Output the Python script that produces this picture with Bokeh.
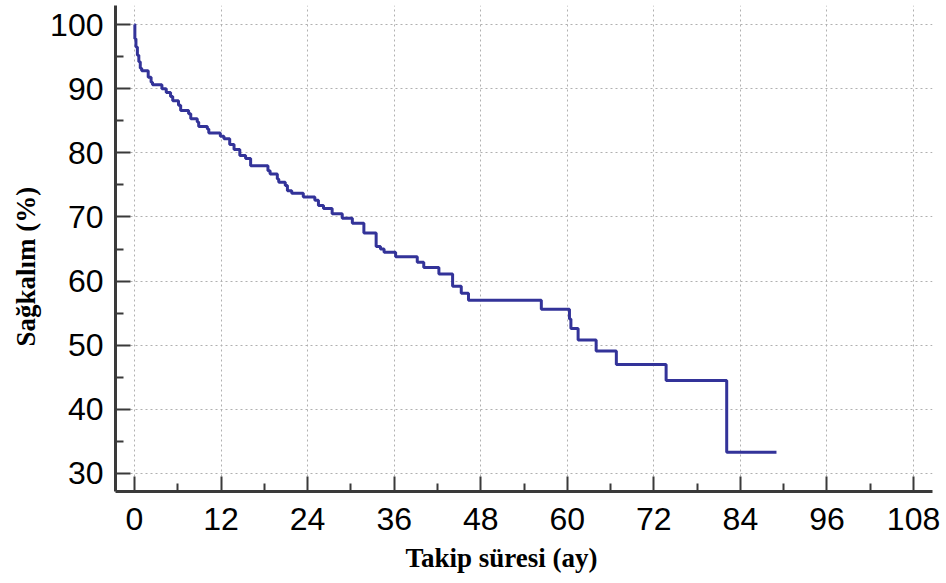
from bokeh.plotting import figure
from bokeh.models import FixedTicker, Range1d, Title
from bokeh.embed import file_html
from bokeh.resources import INLINE

# Kaplan-Meier steps: time (months) at which survival drops, and survival (%) after the drop
event_times = [0, 0.05, 0.2, 0.4, 0.6, 0.8, 1.0, 1.9, 2.3, 2.5, 3.8, 4.4, 5.0, 5.3, 6.1, 6.4,
               7.5, 7.8, 8.7, 8.9, 10.1, 10.3, 11.9, 12.4, 13.2, 13.8, 14.6, 15.4, 16.1, 18.5,
               18.8, 19.8, 20.0, 20.9, 21.2, 21.8, 23.4, 25.0, 25.5, 26.2, 27.4, 28.8, 30.2,
               31.8, 33.5, 34.1, 34.6, 36.2, 39.2, 40.1, 42.2, 44.1, 45.3, 46.3, 56.4, 60.3,
               60.5, 61.5, 64.0, 66.8, 73.7, 82.1]
survival = [100, 97.8, 96.5, 95.2, 94.2, 93.2, 92.8, 91.8, 91.0, 90.6, 90.0, 89.4, 88.8, 88.1,
            87.4, 86.6, 86.1, 85.3, 84.8, 84.1, 83.7, 83.1, 82.6, 82.2, 81.3, 80.5, 79.6, 79.1,
            78.0, 77.2, 76.7, 75.9, 75.4, 74.9, 74.1, 73.7, 73.1, 72.6, 71.8, 71.3, 70.5, 69.8,
            69.0, 67.5, 65.4, 65.0, 64.5, 63.8, 62.95, 62.1, 61.1, 59.2, 58.1, 57.0, 55.6, 54.1,
            52.6, 50.8, 49.1, 47.0, 44.5, 33.3]
last_followup = 89.0

x_ticks = [0, 12, 24, 36, 48, 60, 72, 84, 96, 108]
x_minor = [6, 18, 30, 42, 54, 66, 78, 90, 102]
y_ticks = [30, 40, 50, 60, 70, 80, 90, 100]
y_minor = [35, 45, 55, 65, 75, 85, 95]
x_title = "Takip süresi (ay)"
y_title = "Sağkalım (%)"

xs = event_times + [last_followup]
ys = survival + [survival[-1]]

p = figure(width=940, height=583, output_backend="svg", toolbar_location=None,
           x_range=Range1d(-2.634, 110.63), y_range=Range1d(27.19, 102.97),
           min_border_left=115, min_border_right=8, min_border_top=5, min_border_bottom=92)
p.outline_line_color = None
p.background_fill_color = "white"
p.border_fill_color = "white"

p.step(xs, ys, mode="after", line_color="#333399", line_width=3)

for ax, major, minor in ((p.xaxis[0], x_ticks, x_minor), (p.yaxis[0], y_ticks, y_minor)):
    ax.ticker = FixedTicker(ticks=major, minor_ticks=minor)
    ax.axis_line_color = "#3a3a3a"
    ax.axis_line_width = 3
    ax.major_tick_line_color = "#3a3a3a"
    ax.major_tick_line_width = 2
    ax.minor_tick_line_color = "#3a3a3a"
    ax.minor_tick_line_width = 2
    ax.major_tick_in = 15
    ax.major_tick_out = 0
    ax.minor_tick_in = 8
    ax.minor_tick_out = 0
    ax.major_label_text_font = "Liberation Sans"
    ax.major_label_text_font_size = "32px"
    ax.major_label_text_color = "black"

p.xaxis.major_label_standoff = 16
p.yaxis.major_label_standoff = 12

for g in (p.xgrid[0], p.ygrid[0]):
    g.grid_line_color = "#b0b0b0"
    g.grid_line_dash = "2 3"
    g.grid_line_width = 1

p.add_layout(Title(text=x_title, align="left", offset=290, standoff=16, text_font="Liberation Serif",
                   text_font_style="bold", text_font_size="27px", text_color="black"), "below")
p.add_layout(Title(text=y_title, align="left", offset=145, standoff=14, text_font="Liberation Serif",
                   text_font_style="bold", text_font_size="27px", text_color="black"), "left")

open("out.html", "w").write(file_html(p, INLINE))
